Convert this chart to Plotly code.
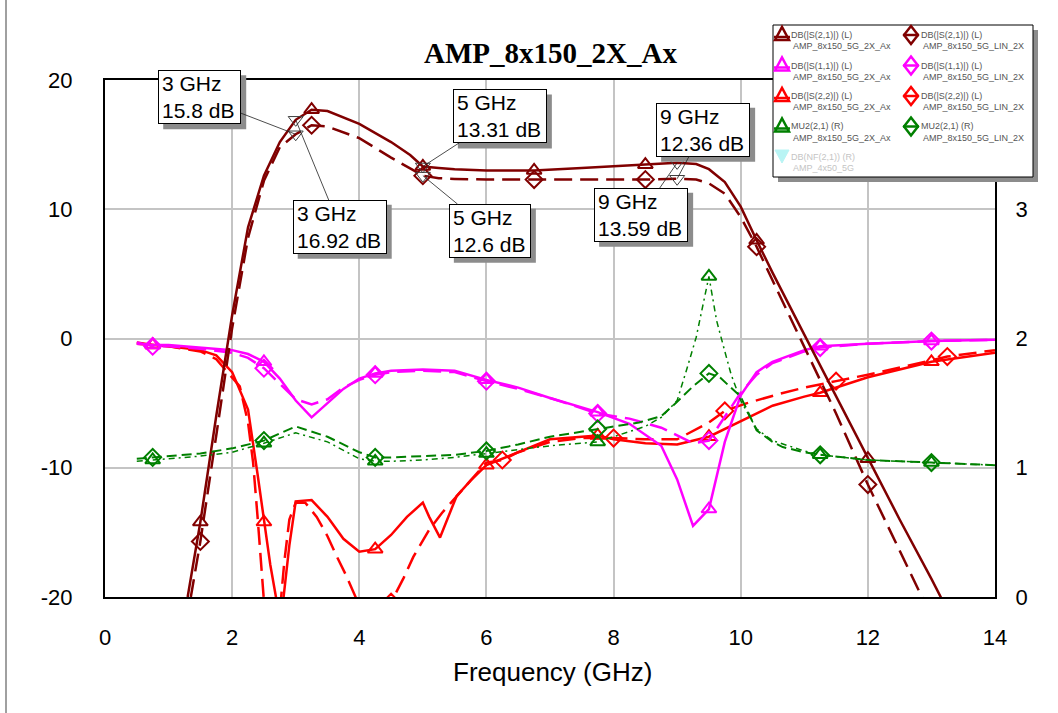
import plotly.graph_objects as go

# ---------------- data ----------------
S21_AX_F = [1.3, 1.5, 1.75, 2.0, 2.25, 2.5, 2.75, 3.0, 3.25, 3.5, 4.0, 4.5, 4.8, 5.0, 5.25, 5.5, 6.0, 6.75,
            7.5, 8.5, 9.0, 9.3, 9.5, 9.75, 10.0, 10.25, 10.5, 11.0, 11.5, 12.0, 12.5, 13.0, 13.25]
S21_AX_DB = [-20, -14.2, -6.0, 1.8, 8.6, 12.6, 15.2, 16.92, 17.7, 17.6, 16.6, 15.2, 14.2, 13.31, 13.2, 13.1,
             13.0, 13.0, 13.2, 13.45, 13.59, 13.5, 13.1, 12.1, 10.2, 7.6, 5.1, 0.3, -4.5, -9.3, -14.0, -18.6, -21.0]

S21_LIN_F = [1.35, 1.5, 1.75, 2.0, 2.25, 2.5, 2.75, 3.0, 3.25, 3.5, 4.0, 4.5, 5.0, 5.25, 5.5, 6.0, 6.75, 7.5,
             8.5, 9.0, 9.3, 9.5, 9.75, 10.0, 10.25, 10.5, 11.0, 11.5, 12.0, 12.5, 12.9]
S21_LIN_DB = [-20, -15.7, -7.5, 0.8, 7.8, 12.2, 14.8, 15.8, 16.5, 16.4, 15.5, 14.0, 12.6, 12.4, 12.35, 12.3,
              12.3, 12.3, 12.3, 12.36, 12.3, 12.0, 11.2, 9.4, 7.1, 4.5, -0.6, -5.8, -11.3, -16.4, -20.5]

S11_AX_F = [0.5, 0.75, 1.0, 1.5, 2.0, 2.25, 2.5, 2.75, 3.0, 3.25, 3.5, 3.75, 4.0, 4.25, 4.5, 5.0, 5.5, 6.0,
            6.5, 7.0, 7.75, 8.25, 8.75, 9.0, 9.25, 9.5, 9.75, 10.0, 10.25, 10.5, 11.0, 11.25, 12.0, 13.0, 14.0]
S11_AX_DB = [-0.4, -0.5, -0.5, -0.7, -0.9, -1.2, -1.8, -3.1, -4.8, -6.1, -5.0, -3.9, -3.1, -2.7, -2.5, -2.4,
             -2.5, -3.2, -3.8, -4.6, -5.7, -6.6, -8.3, -10.9, -14.5, -13.2, -8.0, -4.4, -2.6, -1.8, -0.9, -0.6,
             -0.4, -0.2, -0.1]

S11_LIN_F = [0.5, 0.75, 1.0, 1.5, 2.0, 2.25, 2.5, 2.75, 3.0, 3.25, 3.5, 3.75, 4.0, 4.25, 4.5, 5.0, 5.5, 6.0,
             6.5, 7.0, 7.75, 8.25, 8.75, 9.0, 9.25, 9.5, 9.75, 10.0, 10.25, 10.5, 11.0, 11.25, 12.0, 13.0, 14.0]
S11_LIN_DB = [-0.3, -0.6, -0.6, -0.8, -1.1, -1.5, -2.3, -3.5, -4.7, -5.1, -4.7, -3.8, -3.2, -2.8, -2.6, -2.5,
              -2.6, -3.3, -3.9, -4.6, -5.8, -6.2, -6.9, -7.5, -8.1, -7.9, -6.0, -4.2, -2.8, -1.9, -1.0, -0.7,
              -0.4, -0.2, -0.1]

S22_AX_F = [0.5, 0.75, 1.0, 1.5, 1.75, 2.0, 2.25, 2.4, 2.5, 2.6, 2.7, 2.8, 2.9, 3.0, 3.25, 3.5, 3.75, 4.0,
            4.25, 4.5, 4.75, 5.0, 5.1, 5.27, 5.53, 5.75, 6.0, 6.5, 7.0, 7.75, 8.0, 8.5, 9.0, 9.5, 10.0, 10.5,
            11.0, 11.25, 12.0, 13.0, 14.0]
S22_AX_DB = [-0.4, -0.5, -0.6, -0.9, -1.3, -2.6, -5.5, -10.5, -14.2, -17.5, -20.3, -20.4, -16.0, -12.6, -12.5,
             -13.8, -15.5, -16.5, -16.3, -15.2, -13.8, -12.7, -13.8, -15.4, -12.2, -11.0, -9.8, -8.8, -7.8, -7.5,
             -7.8, -8.1, -8.2, -7.6, -6.4, -5.2, -4.5, -4.2, -3.0, -1.8, -1.1]

S22_LIN_F = [0.5, 0.75, 1.0, 1.5, 1.75, 2.0, 2.12, 2.25, 2.33, 2.4, 2.5, 2.6, 2.75, 2.82, 2.9, 3.0, 3.15, 3.33,
             3.5, 3.65, 3.8, 3.96, 4.2, 4.5, 4.7, 4.85, 5.1, 5.3, 5.53, 6.0, 6.25, 6.5, 7.0, 7.5, 8.0, 8.5, 9.0,
             9.5, 9.75, 10.1, 10.6, 11.0, 11.5, 12.0, 13.0, 13.25, 14.0]
S22_LIN_DB = [-0.3, -0.5, -0.6, -1.0, -1.6, -3.0, -3.7, -6.5, -9.6, -13.8, -20.3, -21.5, -21.2, -17.3, -14.0,
              -12.7, -12.7, -13.8, -15.3, -16.9, -18.4, -20.2, -21.5, -20.4, -18.5, -16.9, -14.8, -13.5, -12.2,
              -9.6, -9.4, -8.8, -8.0, -7.7, -7.7, -7.8, -7.8, -6.5, -5.6, -5.0, -4.3, -3.8, -3.3, -2.8, -1.7,
              -1.4, -0.9]

MU2_AX_F = [0.5, 0.75, 1.0, 1.5, 2.0, 2.5, 3.0, 3.5, 4.0, 4.25, 4.5, 5.0, 5.5, 6.0, 6.5, 7.0, 7.5, 7.75, 8.0,
            8.5, 8.75, 9.0, 9.15, 9.3, 9.5, 9.62, 9.75, 9.85, 10.0, 10.25, 10.5, 11.0, 11.25, 12.0, 13.0, 14.0]
MU2_AX_V = [1.05, 1.06, 1.07, 1.09, 1.12, 1.19, 1.27, 1.20, 1.07, 1.05, 1.05, 1.06, 1.08, 1.11, 1.14, 1.17,
            1.19, 1.20, 1.24, 1.32, 1.39, 1.52, 1.76, 2.01, 2.48, 2.14, 1.90, 1.72, 1.52, 1.30, 1.21, 1.13,
            1.10, 1.06, 1.04, 1.02]

MU2_LIN_F = [0.5, 0.75, 1.0, 1.5, 2.0, 2.5, 3.0, 3.5, 4.0, 4.25, 4.5, 5.0, 5.5, 6.0, 6.5, 7.0, 7.5, 7.75, 8.0,
             8.4, 8.75, 9.0, 9.25, 9.5, 9.67, 10.0, 10.25, 10.5, 10.66, 11.0, 11.25, 12.0, 13.0, 14.0]
MU2_LIN_V = [1.07, 1.08, 1.09, 1.11, 1.15, 1.21, 1.32, 1.24, 1.12, 1.08, 1.08, 1.09, 1.10, 1.13, 1.18, 1.24,
             1.28, 1.30, 1.32, 1.35, 1.40, 1.51, 1.63, 1.73, 1.70, 1.55, 1.29, 1.20, 1.16, 1.12, 1.10, 1.06,
             1.04, 1.02]

# frequencies where the trace symbols are drawn
MARK_S21 = [1.5, 3.25, 5.0, 6.75, 8.5, 10.25, 12.0]
MARK_STD = [0.75, 2.5, 4.25, 6.0, 7.75, 9.5, 11.25, 13.0]
MARK_S22_LIN = [2.75, 4.5, 6.25, 8.0, 9.75, 11.5, 13.25]

# measurement markers
MARKER_F = [3, 3, 5, 5, 9, 9]
MARKER_DB = [15.8, 16.92, 13.31, 12.6, 12.36, 13.59]

X_TICKS = [0, 2, 4, 6, 8, 10, 12, 14]
YL_TICKS = [-20, -10, 0, 10, 20]
YR_TICKS = [0, 1, 2, 3]

LEGEND_ROWS = [
    ("DB(|S(2,1)|) (L)", "AMP_8x150_5G_2X_Ax", "AMP_8x150_5G_LIN_2X"),
    ("DB(|S(1,1)|) (L)", "AMP_8x150_5G_2X_Ax", "AMP_8x150_5G_LIN_2X"),
    ("DB(|S(2,2)|) (L)", "AMP_8x150_5G_2X_Ax", "AMP_8x150_5G_LIN_2X"),
    ("MU2(2,1) (R)", "AMP_8x150_5G_2X_Ax", "AMP_8x150_5G_LIN_2X"),
]
LEGEND_EXTRA = ("DB(NF(2,1)) (R)", "AMP_4x50_5G")

# ---------------- styling / layout ----------------
W, H = 1058, 713
L, R, T, B = 105, 995, 80, 597
XR = (0, 14)
YR = (-20, 20)
DARKRED, MAGENTA, RED, GREEN = "#800000", "#FF00FF", "#FF0000", "#008000"
FONT = "Liberation Sans, Arial, sans-serif"


def px_x(v):
    return L + (v - XR[0]) / (XR[1] - XR[0]) * (R - L)


def px_y(v):
    return B - (v - YR[0]) / (YR[1] - YR[0]) * (B - T)


def pap_x(p):
    return (p - L) / (R - L)


def pap_y(p):
    return (B - p) / (B - T)


fig = go.Figure()


def add_series(f, v, color, dash, width, sym, mfreqs, yaxis="y", msize=13):
    fig.add_trace(go.Scatter(x=f, y=v, mode="lines", yaxis=yaxis, showlegend=False, hoverinfo="skip",
                             line=dict(color=color, dash=dash, width=width)))
    mx = [a for a in f if a in mfreqs]
    my = [b for a, b in zip(f, v) if a in mfreqs]
    fig.add_trace(go.Scatter(x=mx, y=my, mode="markers", yaxis=yaxis, showlegend=False, hoverinfo="skip",
                             marker=dict(symbol=sym, size=msize, color=color,
                                         line=dict(color=color, width=2))))


LONG = "18px,8px"
add_series(MU2_AX_F, MU2_AX_V, GREEN, "6px,4px,2px,4px", 1.5, "triangle-up-open", MARK_STD, "y2")
add_series(MU2_LIN_F, MU2_LIN_V, GREEN, "10px,5px", 2, "diamond-open", MARK_STD, "y2")
add_series(S22_AX_F, S22_AX_DB, RED, "solid", 2.5, "triangle-up-open", MARK_STD)
add_series(S22_LIN_F, S22_LIN_DB, RED, LONG, 2.5, "diamond-open", MARK_S22_LIN)
add_series(S11_AX_F, S11_AX_DB, MAGENTA, "solid", 2.5, "triangle-up-open", MARK_STD)
add_series(S11_LIN_F, S11_LIN_DB, MAGENTA, LONG, 2.5, "diamond-open", MARK_STD)
add_series(S21_AX_F, S21_AX_DB, DARKRED, "solid", 2.5, "triangle-up-open", MARK_S21)
add_series(S21_LIN_F, S21_LIN_DB, DARKRED, LONG, 2.5, "diamond-open", MARK_S21)

# measurement markers (inverted triangles)
fig.add_trace(go.Scatter(x=MARKER_F, y=MARKER_DB, mode="markers", showlegend=False, hoverinfo="skip",
                         marker=dict(symbol="triangle-down-open", size=13, color="#404040",
                                     line=dict(color="#404040", width=1))))

shapes = []
annotations = []

# marker label boxes
LABEL_OFF = [(-96, -37), (44, 107), (77, -50), (67, 55), (26, -49), (-36, 52)]
LABEL_W = [83, 94, 94, 82, 94, 94]
BOX_H = 54
for f, db, (ax, ay), bw in zip(MARKER_F, MARKER_DB, LABEL_OFF, LABEL_W):
    cx, cy = px_x(f) + ax, px_y(db) + ay
    shapes.append(dict(type="rect", xref="paper", yref="paper", layer="above",
                       x0=pap_x(cx - bw / 2 + 5), x1=pap_x(cx + bw / 2 + 5),
                       y0=pap_y(cy + BOX_H / 2 + 5), y1=pap_y(cy - BOX_H / 2 + 5),
                       fillcolor="#8C8C8C", line=dict(width=0)))
    annotations.append(dict(x=f, y=db, xref="x", yref="y", ax=ax, ay=ay, showarrow=True,
                            arrowhead=0, arrowwidth=0.8, arrowcolor="#202020", standoff=0,
                            text=f"{f:g} GHz<br>{db:g} dB", align="left",
                            width=bw - 8, height=BOX_H - 8, borderpad=3, borderwidth=1,
                            bordercolor="#000000", bgcolor="#FFFFFF",
                            font=dict(family=FONT, size=21, color="#000000")))

# title
annotations.append(dict(x=pap_x(550), y=pap_y(53), xref="paper", yref="paper", showarrow=False,
                        text="<b>AMP_8x150_2X_Ax</b>", xanchor="center", yanchor="middle",
                        font=dict(family="Liberation Serif, Times New Roman, serif", size=29, color="#000000")))
# x axis title
annotations.append(dict(x=pap_x(552), y=pap_y(672), xref="paper", yref="paper", showarrow=False,
                        text="Frequency (GHz)", xanchor="center", yanchor="middle",
                        font=dict(family=FONT, size=26, color="#000000")))

# legend box
LBX0, LBX1, LBY0, LBY1 = 773, 1033, 25, 177
shapes.append(dict(type="rect", xref="paper", yref="paper", layer="above",
                   x0=pap_x(LBX0 + 5), x1=pap_x(LBX1 + 5), y0=pap_y(LBY1 + 5), y1=pap_y(LBY0 + 5),
                   fillcolor="#8C8C8C", line=dict(width=0)))
shapes.append(dict(type="rect", xref="paper", yref="paper", layer="above",
                   x0=pap_x(LBX0), x1=pap_x(LBX1), y0=pap_y(LBY1), y1=pap_y(LBY0),
                   fillcolor="#FFFFFF", line=dict(color="#000000", width=1)))

ROW_COLORS = [DARKRED, MAGENTA, RED, GREEN]
COL_X = [782, 911]
TXT_X = [789, 919]


def tri_path(cx, cy, up=True):
    if up:
        pts = [(cx - 7, cy + 6), (cx, cy - 7), (cx + 7, cy + 6)]
    else:
        pts = [(cx - 7, cy - 6), (cx, cy + 7), (cx + 7, cy - 6)]
    return "M " + " L ".join(f"{pap_x(a)},{pap_y(b)}" for a, b in pts) + " Z"


def dia_path(cx, cy):
    pts = [(cx - 7, cy), (cx, cy - 9), (cx + 7, cy), (cx, cy + 9)]
    return "M " + " L ".join(f"{pap_x(a)},{pap_y(b)}" for a, b in pts) + " Z"


for i, (name, src_a, src_b) in enumerate(LEGEND_ROWS):
    cy = 34 + 30.5 * i
    col = ROW_COLORS[i]
    shapes.append(dict(type="path", xref="paper", yref="paper", layer="above", path=tri_path(COL_X[0], cy),
                       line=dict(color=col, width=2.5), fillcolor="rgba(0,0,0,0)"))
    shapes.append(dict(type="line", xref="paper", yref="paper", layer="above",
                       x0=pap_x(COL_X[0] - 8), x1=pap_x(COL_X[0] + 8), y0=pap_y(cy + 3), y1=pap_y(cy + 3),
                       line=dict(color=col, width=2.5)))
    shapes.append(dict(type="path", xref="paper", yref="paper", layer="above", path=dia_path(COL_X[1], cy + 1),
                       line=dict(color=col, width=2.5), fillcolor="rgba(0,0,0,0)"))
    shapes.append(dict(type="line", xref="paper", yref="paper", layer="above",
                       x0=pap_x(COL_X[1] - 8), x1=pap_x(COL_X[1] + 8), y0=pap_y(cy + 1), y1=pap_y(cy + 1),
                       line=dict(color=col, width=2.5)))
    for j, src in enumerate((src_a, src_b)):
        annotations.append(dict(x=pap_x(TXT_X[j]), y=pap_y(cy + 1), xref="paper", yref="paper",
                                showarrow=False, xanchor="left", yanchor="middle", text=name,
                                font=dict(family=FONT, size=9, color="#555555")))
        annotations.append(dict(x=pap_x(TXT_X[j] + 2), y=pap_y(cy + 12), xref="paper", yref="paper",
                                showarrow=False, xanchor="left", yanchor="middle", text=src,
                                font=dict(family=FONT, size=9, color="#555555")))

# disabled (greyed) legend entry
cy = 34 + 30.5 * 4
shapes.append(dict(type="path", xref="paper", yref="paper", layer="above", path=tri_path(COL_X[0], cy, up=False),
                   line=dict(color="#B8F4F4", width=1), fillcolor="#B8F4F4"))
annotations.append(dict(x=pap_x(TXT_X[0]), y=pap_y(cy + 1), xref="paper", yref="paper", showarrow=False,
                        xanchor="left", yanchor="middle", text=LEGEND_EXTRA[0],
                        font=dict(family=FONT, size=9, color="#C4C4C4")))
annotations.append(dict(x=pap_x(TXT_X[0] + 2), y=pap_y(cy + 12), xref="paper", yref="paper", showarrow=False,
                        xanchor="left", yanchor="middle", text=LEGEND_EXTRA[1],
                        font=dict(family=FONT, size=9, color="#C4C4C4")))

# window edge on the left
shapes.append(dict(type="line", xref="paper", yref="paper", layer="above",
                   x0=pap_x(6), x1=pap_x(6), y0=pap_y(0), y1=pap_y(H),
                   line=dict(color="#A0A0A0", width=2)))

fig.update_layout(
    width=W, height=H,
    margin=dict(l=L, r=W - R, t=T, b=H - B, pad=0),
    paper_bgcolor="#FFFFFF", plot_bgcolor="#FFFFFF",
    showlegend=False,
    font=dict(family=FONT, color="#000000"),
    xaxis=dict(range=list(XR), tickvals=X_TICKS, ticktext=[str(t) for t in X_TICKS],
               showgrid=True, gridcolor="#C4C4C4", gridwidth=2, zeroline=False,
               showline=True, linecolor="#000000", linewidth=2, mirror=True,
               ticks="outside", ticklen=20, tickcolor="rgba(0,0,0,0)",
               tickfont=dict(family=FONT, size=22, color="#000000")),
    yaxis=dict(range=list(YR), tickvals=YL_TICKS, ticktext=[str(t) for t in YL_TICKS],
               showgrid=True, gridcolor="#C4C4C4", gridwidth=2, zeroline=False,
               showline=True, linecolor="#000000", linewidth=2, mirror=True,
               ticks="outside", ticklen=26, tickcolor="rgba(0,0,0,0)",
               tickfont=dict(family=FONT, size=22, color="#000000")),
    yaxis2=dict(range=[0, 4], overlaying="y", side="right", tickvals=YR_TICKS,
                ticktext=[str(t) for t in YR_TICKS], showgrid=False, zeroline=False, showline=False,
                ticks="outside", ticklen=15, tickcolor="rgba(0,0,0,0)",
                tickfont=dict(family=FONT, size=22, color="#000000")),
    shapes=shapes,
    annotations=annotations,
)

fig.write_html("out.html")
